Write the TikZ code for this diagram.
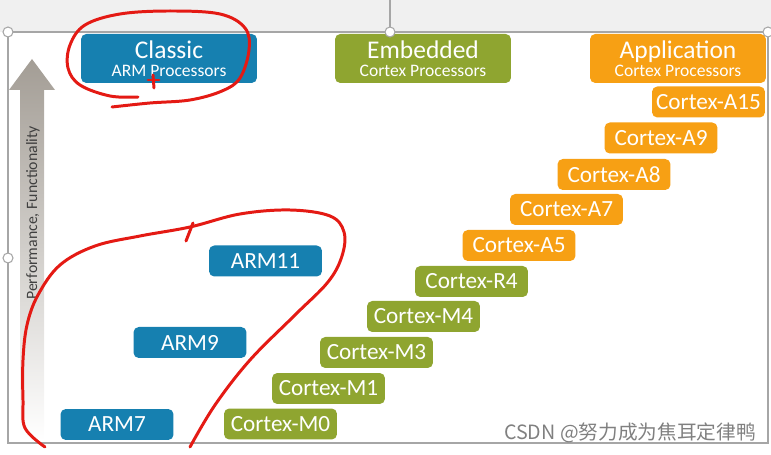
\documentclass[tikz,border=0pt]{standalone}
\usepackage{fontspec}
\setmainfont{Carlito}
\newfontfamily\cjkfont{Noto Sans CJK SC}
\usepackage{xcolor}
\usetikzlibrary{positioning}
\definecolor{armblue}{HTML}{1680B0}
\definecolor{armgreen}{HTML}{8FA530}
\definecolor{armorange}{HTML}{F7A014}
\definecolor{penred}{HTML}{E41A14}
\definecolor{slidegrey}{HTML}{F0F0F0}
\definecolor{framegrey}{HTML}{A6A6A6}
\definecolor{arrowgrey}{HTML}{A39D95}
\definecolor{labelgrey}{HTML}{404040}

\begin{document}
\begin{tikzpicture}[x=0.02cm,y=-0.02cm,
		chip/.style={rounded corners=3pt,inner sep=0pt,minimum width=2.26cm,minimum height=0.62cm,text=white,font=\fontsize{13.2}{15}\selectfont},
		arm/.style={chip,fill=armblue},
		mcu/.style={chip,fill=armgreen},
		app/.style={chip,fill=armorange},
		family/.style={rounded corners=3pt,inner sep=0pt,minimum width=3.52cm,minimum height=0.98cm,align=center,text=white,font=\fontsize{10}{10.5}\selectfont},
		handle/.style={draw=framegrey,fill=white,line width=0.6pt},
		pen/.style={draw=penred,line width=1.7pt,line cap=round,line join=round}
		]
		\useasboundingbox (0,0) rectangle (771,455);
		% slide frame
		\fill[slidegrey] (0,0) rectangle (771,32);
		\draw[framegrey,line width=0.8pt] (8,443) -- (8,32) -- (768,32) -- (768,443) -- cycle;
		\draw[framegrey,line width=0.8pt] (390,0) -- (390,27);
		% performance arrow
		\shade[top color=arrowgrey,bottom color=white] (20,440) -- (20,90) -- (9,90) -- (32,59) -- (55,90) -- (44,90) -- (44,440) -- cycle;
		\node[rotate=90,text=labelgrey,font=\fontsize{9}{10}\selectfont] (perf) at (33,213) {Performance, Functionality};
		% families
		\node[family,fill=armblue] (classic) at (169,58.5) {{\fontsize{14.5}{10.5}\selectfont Classic}\\ARM Processors};
		\node[family,fill=armgreen] (embedded) at (423,58.5) {{\fontsize{14.5}{10.5}\selectfont Embedded}\\Cortex Processors};
		\node[family,fill=armorange] (application) at (678,58.5) {{\fontsize{14.5}{10.5}\selectfont Application}\\Cortex Processors};
		% classic cores
		\node[arm] (arm11) at (265.5,261) {ARM11};
		\node[arm] (arm9) at (190,342.5) {ARM9};
		\node[arm] (arm7) at (117,424.5) {ARM7};
		% cortex staircase
		\node[mcu] (m0) at (280.5,424) {Cortex-M0};
		\node[mcu] (m1) at (328.5,388.5) {Cortex-M1};
		\node[mcu] (m3) at (376.5,352.5) {Cortex-M3};
		\node[mcu] (m4) at (423.5,316.5) {Cortex-M4};
		\node[mcu] (r4) at (471.5,281.5) {Cortex-R4};
		\node[app] (a5) at (519,245.5) {Cortex-A5};
		\node[app] (a7) at (566.5,209.5) {Cortex-A7};
		\node[app] (a8) at (614,174.5) {Cortex-A8};
		\node[app] (a9) at (661,138) {Cortex-A9};
		\node[app] (a15) at (708.5,102) {Cortex-A15};
		% selection handles
		\draw[handle] (8,32) circle (5);
		\draw[handle] (390,32) circle (5);
		\draw[handle] (768,32) circle (5);
		\draw[handle] (8,258) circle (5);
		% red pen marks
		\draw[pen] plot[smooth,tension=0.6] coordinates {(138,97) (110,96) (80,85) (68,68) (70,45) (85,25) (120,14) (170,11) (220,14) (245,28) (249,50) (240,78) (222,91) (190,100) (150,103) (112,107)};
		\draw[pen] (148,80) -- (159,80);
		\draw[pen] (153,75) -- (154,88);
		\draw[pen] plot[smooth,tension=0.6] coordinates {(45,447) (25,428) (23,400) (23,360) (27,325) (38,295) (60,265) (95,246) (140,236) (190,227) (240,214) (290,210) (330,216) (344,232) (342,256) (328,282) (295,315) (250,360) (215,405) (190,447)};
		\draw[pen] (186,241) -- (193,223);
		% watermark
		\node[text=gray,font=\cjkfont\fontsize{11.2}{13}\selectfont] (mark) at (630,433) {CSDN @努力成为焦耳定律鸭};
	\end{tikzpicture}
\end{document}
